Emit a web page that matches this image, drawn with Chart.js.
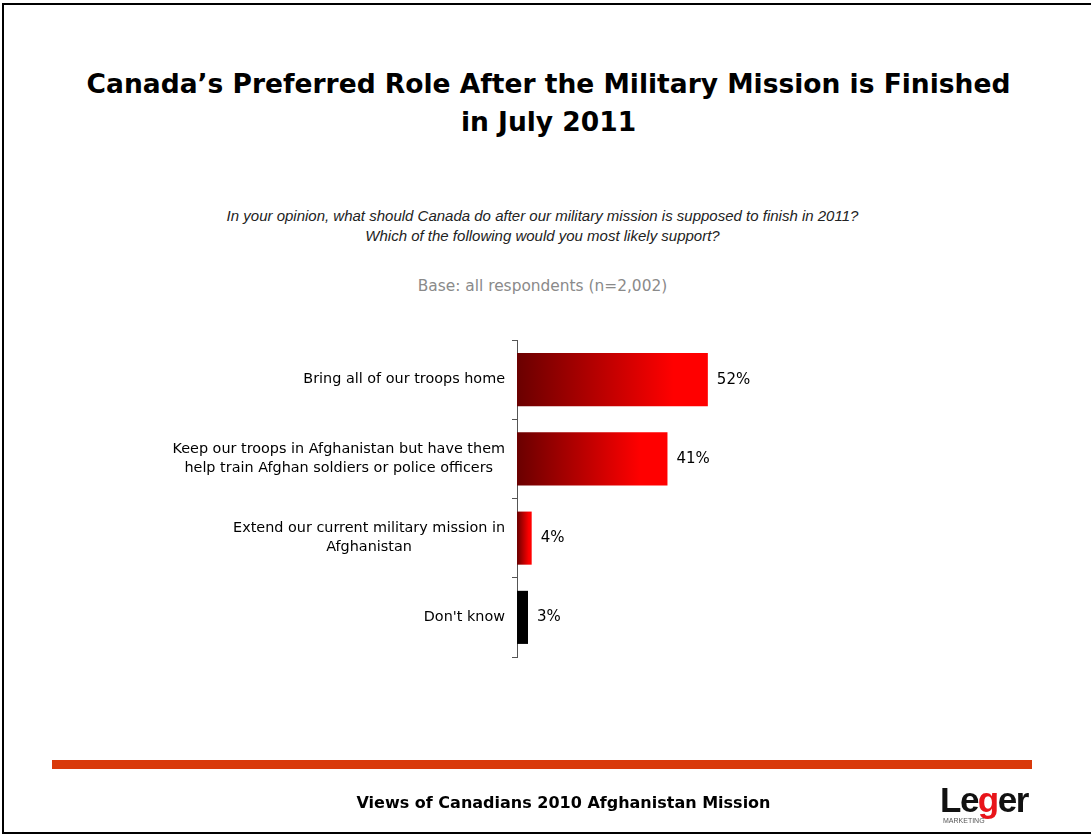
<!DOCTYPE html>
<html>
<head>
<meta charset="utf-8">
<script src="https://cdn.jsdelivr.net/npm/chart.js@4/dist/chart.umd.min.js"></script>
<style>
  html, body { margin: 0; padding: 0; background: #fff; }
  body { width: 1091px; height: 836px; position: relative; overflow: hidden; }
  .frame { position: absolute; left: 2px; top: 3px; width: 1200px; height: 831px; box-sizing: border-box;
           border: 2px solid #000; border-right: none; }
  .txt { position: absolute; left: 0; width: 1091px; text-align: center; white-space: nowrap; }
  #title { top: 65px; font: bold 26.5px "DejaVu Sans", sans-serif; line-height: 38px; color: #000; left: 3px; }
  #question { top: 206px; font: italic 15px "Liberation Sans", Arial, sans-serif; line-height: 20px; color: #222; left: -3px; }
  #base { top: 277px; font: 15.4px "DejaVu Sans", sans-serif; color: #8a8a8a; left: -3px; }
  #rule { position: absolute; left: 52px; top: 760px; width: 980px; height: 9px; background: #d93a0b; }
  #footer { top: 793px; font: bold 16px "DejaVu Sans", sans-serif; color: #000; left: 18px; }
  #logo { position: absolute; left: 940px; top: 780px; font: bold 35px "Liberation Sans Narrow", "Liberation Sans", Arial, sans-serif; letter-spacing: -1.5px; color: #111; }
  #logo .g { color: #e8141a; }
  #logo small { position: absolute; left: 3px; top: 37px; font: 7px "Liberation Sans Narrow", Arial, sans-serif; letter-spacing: 0; color: #555; }
  canvas { position: absolute; left: 0; top: 0; }
</style>
</head>
<body>
<div class="frame"></div>
<div id="title" class="txt">Canada’s Preferred Role After the Military Mission is Finished<br>in July 2011</div>
<div id="question" class="txt">In your opinion, what should Canada do after our military mission is supposed to finish in 2011?<br>Which of the following would you most likely support?</div>
<div id="base" class="txt">Base: all respondents (n=2,002)</div>
<canvas id="chart" width="1091" height="836"></canvas>
<div id="rule"></div>
<div id="footer" class="txt">Views of Canadians 2010 Afghanistan Mission</div>
<div id="logo">Le<span class="g">g</span>er<small>MARKETING</small></div>
<script>
// Answer options (each inner array is one label, split into lines)
const categories = [
  ["Bring all of our troops home"],
  ["Keep our troops in Afghanistan but have them", "help train Afghan soldiers or police officers"],
  ["Extend our current military mission in", "Afghanistan"],
  ["Don't know"]
];
// Share of respondents, %
const values = [52, 41, 4, 3];
const valueLabels = ["52%", "41%", "4%", "3%"];
// Bar fill: gradient bars for the answers, solid black for "Don't know"
const solidFill = [null, null, null, "#000000"];

const labelFont = '14.4px "DejaVu Sans", sans-serif';
const valueFont = '15px "DejaVu Sans", sans-serif';

function barFill(ctx) {
  const i = ctx.dataIndex;
  if (solidFill[i]) return solidFill[i];
  const chart = ctx.chart;
  const area = chart.chartArea;
  if (!area) return "#c00000";
  const xs = chart.scales.x;
  const x0 = xs.getPixelForValue(0);
  const x1 = xs.getPixelForValue(values[i]);
  const g = chart.ctx.createLinearGradient(x0, 0, x1, 0);
  g.addColorStop(0, "#6a0000");
  g.addColorStop(0.82, "#ff0000");
  g.addColorStop(1, "#ff0000");
  return g;
}

// Category labels: each block right-aligned next to the axis, its lines centred on one another
const categoryLabels = {
  id: "categoryLabels",
  afterDraw(chart) {
    const c = chart.ctx;
    const ys = chart.scales.y;
    const right = chart.chartArea.left - 12;
    const lh = 19;
    c.save();
    c.font = labelFont;
    c.fillStyle = "#000";
    c.textBaseline = "middle";
    c.textAlign = "center";
    categories.forEach((lines, i) => {
      const w = Math.max(...lines.map(l => c.measureText(l).width));
      const cx = right - w / 2;
      const cy = ys.getPixelForValue(i);
      const top = cy - (lines.length - 1) * lh / 2;
      lines.forEach((l, k) => c.fillText(l, cx, top + k * lh));
    });
    c.restore();
  }
};

// Value labels just past the end of each bar
const valueTags = {
  id: "valueTags",
  afterDatasetsDraw(chart) {
    const c = chart.ctx;
    const xs = chart.scales.x, ys = chart.scales.y;
    c.save();
    c.font = valueFont;
    c.fillStyle = "#000";
    c.textBaseline = "middle";
    c.textAlign = "left";
    values.forEach((v, i) => {
      c.fillText(valueLabels[i], xs.getPixelForValue(v) + 9, ys.getPixelForValue(i));
    });
    c.restore();
  }
};

new Chart(document.getElementById("chart"), {
  type: "bar",
  data: {
    labels: categories,
    datasets: [{
      data: values,
      backgroundColor: barFill,
      borderWidth: 0,
      barPercentage: 0.67,
      categoryPercentage: 1
    }]
  },
  options: {
    indexAxis: "y",
    responsive: false,
    animation: false,
    events: [],
    layout: { padding: { top: 340, bottom: 179, left: 507, right: 207 } },
    plugins: { legend: { display: false }, tooltip: { enabled: false }, title: { display: false } },
    scales: {
      x: { display: false, min: 0, max: 100 },
      y: {
        ticks: { display: false },
        grid: { display: true, offset: true, drawOnChartArea: false, drawTicks: true, tickLength: 5, color: "#555", lineWidth: 1 },
        border: { display: true, color: "#555", width: 1 },
        afterFit(scale) { scale.width = 10; }
      }
    }
  },
  plugins: [categoryLabels, valueTags]
});
</script>
</body>
</html>
